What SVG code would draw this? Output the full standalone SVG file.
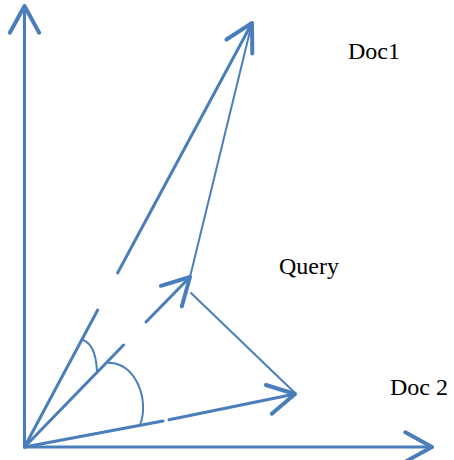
<svg xmlns="http://www.w3.org/2000/svg" width="454" height="460" viewBox="0 0 454 460">
  <style>
    .vec { fill: none; stroke: #4a7ebb; stroke-width: 3; stroke-linecap: round; }
    .thin { fill: none; stroke: #4a7ebb; stroke-width: 2; stroke-linecap: round; }
    .lbl { font-family: "Liberation Serif", "Times New Roman", serif; font-size: 24px; fill: #000; }
  </style>
  <defs>
    <marker id="head" markerUnits="userSpaceOnUse" markerWidth="40" markerHeight="40" refX="0" refY="0" viewBox="-25 -15 30 30" orient="auto" overflow="visible">
      <path d="M-20,-11 L0,0 L-20,11" fill="none" stroke="#4a7ebb" stroke-width="3" stroke-linecap="round" stroke-linejoin="round"/>
    </marker>
  </defs>
  <rect width="454" height="460" fill="#fff"/>
  <g id="connectors">
    <line id="y-axis" class="vec" x1="24.5" y1="447" x2="24.5" y2="6" marker-end="url(#head)"/>
    <line id="x-axis" class="vec" x1="24.5" y1="447" x2="432" y2="447" marker-end="url(#head)"/>
    <g id="doc1-vector">
      <line class="vec" x1="24.5" y1="447" x2="97.7" y2="310"/>
      <line class="vec" x1="117.6" y1="273" x2="252" y2="23" marker-end="url(#head)"/>
    </g>
    <g id="query-vector">
      <line class="vec" x1="24.5" y1="447" x2="123.6" y2="345"/>
      <line class="vec" x1="146" y1="322" x2="190" y2="277" marker-end="url(#head)"/>
    </g>
    <g id="doc2-vector">
      <line class="vec" x1="24.5" y1="447" x2="163" y2="421"/>
      <line class="vec" x1="169" y1="419.8" x2="295" y2="394" marker-end="url(#head)"/>
    </g>
    <line id="query-doc1" class="thin" x1="190" y1="277" x2="252" y2="23"/>
    <line id="query-doc2" class="thin" x1="191" y1="293" x2="295" y2="393"/>
    <path id="angle1" class="thin" d="M83,340 Q96,345 97,372"/>
    <path id="angle2" class="thin" d="M109,363 C135,362 150,400 140,425"/>
  </g>
  <g id="doc1-label"><text class="lbl" x="348" y="59">Doc1</text></g>
  <g id="query-label"><text class="lbl" x="279" y="274">Query</text></g>
  <g id="doc2-label"><text class="lbl" x="390" y="395">Doc 2</text></g>
</svg>
